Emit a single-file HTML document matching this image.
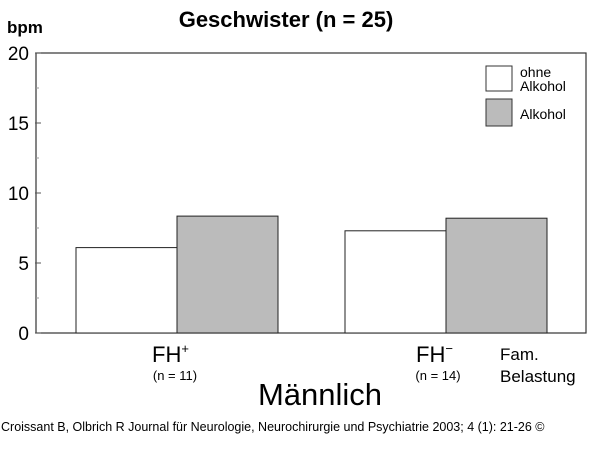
<!DOCTYPE html>
<html><head><meta charset="utf-8"><style>
html,body{margin:0;padding:0;background:#fff;}
svg{display:block;font-family:"Liberation Sans",Arial,sans-serif;}
</style></head><body>
<svg id="chart" width="600" height="476" viewBox="0 0 600 476">
<rect x="0" y="0" width="600" height="476" fill="#fff"/>
<text x="286" y="27" text-anchor="middle" font-size="22" font-weight="bold">Geschwister (n = 25)</text>
<text x="7" y="33" font-size="17" font-weight="bold">bpm</text>
<g id="axes"></g>
<g id="bars"></g>
<g>
<rect x="486" y="66" width="26" height="25" fill="#fff" stroke="#333" stroke-width="1"/>
<text x="520" y="77" font-size="14">ohne</text>
<text x="520" y="91" font-size="14">Alkohol</text>
<rect x="486" y="99" width="26" height="27" fill="#bbb" stroke="#333" stroke-width="1"/>
<text x="520" y="119" font-size="14">Alkohol</text>
</g>
<text x="152" y="362" font-size="22">FH<tspan font-size="13" dy="-9">+</tspan></text>
<text x="175" y="380" text-anchor="middle" font-size="13">(n = 11)</text>
<text x="416" y="362" font-size="22">FH<tspan font-size="13" dy="-9">−</tspan></text>
<text x="438" y="380" text-anchor="middle" font-size="13">(n = 14)</text>
<text x="500" y="360" font-size="17">Fam.</text>
<text x="500" y="382" font-size="17">Belastung</text>
<text x="320" y="405" text-anchor="middle" font-size="31">Männlich</text>
<text x="1" y="431" font-size="12.5">Croissant B, Olbrich R Journal für Neurologie, Neurochirurgie und Psychiatrie 2003; 4 (1): 21-26 ©</text>
</svg>
<script>
const categories = ["FH+", "FH-"];
const ohneAlkohol = [6.1, 7.3];
const alkohol = [8.35, 8.2];
const yTicks = [0, 5, 10, 15, 20];
const yMinor = [2.5, 7.5, 12.5, 17.5];
const NS = "http://www.w3.org/2000/svg";
const L = 36, R = 586, T = 53, B = 333, yMax = 20;
const y = v => B - (v / yMax) * (B - T);
const groupStarts = [76, 345], barW = 101;
function mk(tag, attrs, parent) { const e = document.createElementNS(NS, tag); for (const k in attrs) e.setAttribute(k, attrs[k]); parent.appendChild(e); return e; }
const axes = document.getElementById("axes"), bars = document.getElementById("bars");
const frame = mk("rect", {x: L, y: T, width: R - L, height: B - T, fill: "none", stroke: "#333", "stroke-width": 1.2}, axes);


yTicks.forEach(v => {
  const t = mk("line", {x1: L - 1, x2: L + 5, y1: y(v), y2: y(v), stroke: "#555"}, axes);
  
  
  const lab = mk("text", {x: 29, y: y(v) + 7, "text-anchor": "end", "font-size": 19}, axes);
  lab.textContent = v;
  
  
});
yMinor.forEach(v => {
  const t = mk("line", {x1: L, x2: L + 3, y1: y(v), y2: y(v), stroke: "#999"}, axes);
  
  
});
categories.forEach((c, i) => {
  const x0 = groupStarts[i];
  const b1 = mk("rect", {x: x0, y: y(ohneAlkohol[i]), width: barW, height: B - y(ohneAlkohol[i]), fill: "#fff", stroke: "#222", "stroke-width": 1}, bars);
  
  
  const b2 = mk("rect", {x: x0 + barW, y: y(alkohol[i]), width: barW, height: B - y(alkohol[i]), fill: "#bbb", stroke: "#222", "stroke-width": 1}, bars);
  
  
});
</script>
</body></html>
